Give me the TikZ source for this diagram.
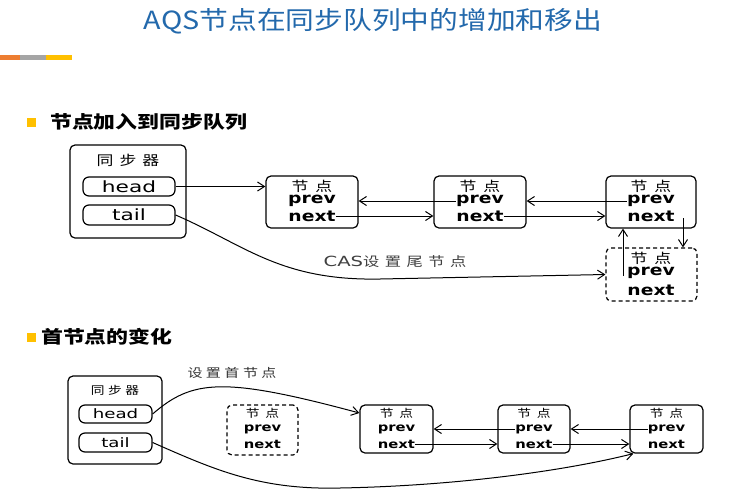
\documentclass[tikz,border=0pt]{standalone}
\usepackage{fontspec}
\setmainfont{Liberation Sans}
\newfontfamily\cjk{Noto Sans CJK SC}[FakeStretch=1.15]
\newfontfamily\cjkw{Noto Sans CJK SC}[FakeStretch=1.25]
\newfontfamily\wide{DejaVu Sans}[FakeStretch=1.25]
\newfontfamily\wider{DejaVu Sans}[FakeStretch=1.4]
\usetikzlibrary{arrows.meta}
\definecolor{titleblue}{RGB}{35,105,172}
\definecolor{barorange}{RGB}{237,125,49}
\definecolor{bargray}{RGB}{165,165,165}
\definecolor{baryellow}{RGB}{255,192,0}
\newcommand{\gapz}{\hspace{3.5pt}}
\newcommand{\gapc}{\hspace{5.5pt}}
\newcommand{\gapn}{\hspace{7pt}}
\newcommand{\gapm}{\hspace{6pt}}
\tikzset{
  box/.style={draw, line width=1.2pt, rounded corners=5pt, inner sep=0pt},
  dbox/.style={box, dashed, dash pattern=on 4pt off 3pt},
  field/.style={draw, line width=1.2pt, rounded corners=6pt, inner sep=0pt, font=\wider\fontsize{15.5}{15.5}\selectfont},
  fields/.style={draw, line width=1.2pt, rounded corners=6pt, inner sep=0pt, font=\wider\fontsize{13}{13}\selectfont},
  ntxt/.style={inner sep=0pt, font=\wide\bfseries\fontsize{15}{15}\selectfont},
  ntxts/.style={inner sep=0pt, font=\wide\bfseries\fontsize{11.8}{11.8}\selectfont},
  ctxt/.style={inner sep=0pt, font=\cjkw\fontsize{13.5}{13.5}\selectfont},
  ctxts/.style={inner sep=0pt, font=\cjkw\fontsize{11}{11}\selectfont},
  arr/.style={-{Straight Barb[length=7pt,width=9pt]}, line width=1pt},
  marker/.style={fill=baryellow, draw=none, inner sep=0pt, minimum size=9pt},
  heading/.style={inner sep=0pt, anchor=west, font=\cjkw\bfseries\fontsize{17.5}{17.5}\selectfont}
}
\begin{document}
\begin{tikzpicture}[x=1pt,y=-1pt]
\useasboundingbox (0,0) rectangle (740,499);
\fill[white] (0,0) rectangle (740,499);
% title
\node[inner sep=0pt, text=titleblue, font=\cjk\fontsize{25}{25}\selectfont] (title) at (373,21) {AQS节点在同步队列中的增加和移出};
\fill[barorange] (0,55) rectangle (20,60);
\fill[bargray] (20,55) rectangle (46,60);
\fill[baryellow] (46,55) rectangle (72,60);

% section 1
\node[marker] (m1) at (31.5,122.5) {};
\node[heading] (h1) at (50,122) {节点加入到同步队列};

% synchronizer 1
\node[box, minimum width=116pt, minimum height=93pt] (s1) at (128,191.5) {};
\node[ctxt] (s1t) at (128,160) {同\gapm 步\gapm 器};
\node[field, minimum width=92pt, minimum height=19pt] (head1) at (129,186.5) {head};
\node[field, minimum width=92pt, minimum height=20pt] (tail1) at (129,215) {tail};

% nodes top
\node[box, minimum width=92pt, minimum height=52pt] (a1) at (312,202) {};
\node[ctxt] (a1t) at (312,186) {节\gapn 点};
\node[ntxt] (a1p) at (312,201) {prev};
\node[ntxt] (a1n) at (312,216) {next};

\node[box, minimum width=92pt, minimum height=52pt] (a2) at (480,202) {};
\node[ctxt] (a2t) at (480,186) {节\gapn 点};
\node[ntxt] (a2p) at (480,201) {prev};
\node[ntxt] (a2n) at (480,216) {next};

\node[box, minimum width=90pt, minimum height=52pt] (a3) at (651,202) {};
\node[ctxt] (a3t) at (651,186) {节\gapn 点};
\node[ntxt] (a3p) at (651,201) {prev};
\node[ntxt] (a3n) at (651,216) {next};

\node[dbox, minimum width=91pt, minimum height=53pt] (dn) at (651.5,274.5) {};
\node[ctxt] (dnt) at (651,258) {节\gapn 点};
\node[ntxt] (dnp) at (651,273) {prev};
\node[ntxt] (dnn) at (651,290) {next};

% connectors top
\draw[arr] (head1.east) -- (a1.west |- head1.east);
\draw[arr] (a2p.west) -- (a2p.west -| a1.east);
\draw[arr] (a1n.east) -- (a1n.east -| a2.west);
\draw[arr] (a3p.west) -- (a3p.west -| a2.east);
\draw[arr] (a2n.east) -- (a2n.east -| a3.west);
\coordinate (d1) at (683,218);
\draw[arr] (d1) -- (d1 |- dn.north);
\coordinate (u1) at (623,276);
\draw[arr] (u1) -- (u1 |- a3.south);
\draw[arr] (tail1.east) .. controls (245,245) and (280,281) .. (380,279) -- (dn.west);
\node[inner sep=0pt, text=black!75, font=\cjkw\fontsize{13}{13}\selectfont] (cas) at (395,262) {{\wider\fontsize{14}{14}\selectfont CAS}设\gapc 置\gapc 尾\gapc 节\gapc 点};

% section 2
\node[marker] (m2) at (31,337) {};
\node[heading] (h2) at (41,337) {首节点的变化};

% synchronizer 2
\node[box, minimum width=94pt, minimum height=88pt] (s2) at (115,420) {};
\node[ctxts] (s2t) at (115,390) {同\gapz 步\gapz 器};
\node[fields, minimum width=73pt, minimum height=18pt] (head2) at (115.5,414) {head};
\node[fields, minimum width=73pt, minimum height=19pt] (tail2) at (115.5,442.5) {tail};

\node[dbox, minimum width=71pt, minimum height=50pt] (bd) at (262.5,430) {};
\node[ctxts] (bdt) at (262.5,413) {节\gapm 点};
\node[ntxts] (bdp) at (262.5,429) {prev};
\node[ntxts] (bdn) at (262.5,444) {next};

\node[box, minimum width=73pt, minimum height=48pt] (bA) at (396.5,429) {};
\node[ctxts] (bAt) at (396.5,413) {节\gapm 点};
\node[ntxts] (bAp) at (396.5,429) {prev};
\node[ntxts] (bAn) at (396.5,444) {next};

\node[box, minimum width=72pt, minimum height=48pt] (bB) at (534,429) {};
\node[ctxts] (bBt) at (534,413) {节\gapm 点};
\node[ntxts] (bBp) at (534,429) {prev};
\node[ntxts] (bBn) at (534,444) {next};

\node[box, minimum width=73pt, minimum height=48pt] (bC) at (666.5,429) {};
\node[ctxts] (bCt) at (666.5,413) {节\gapm 点};
\node[ntxts] (bCp) at (666.5,429) {prev};
\node[ntxts] (bCn) at (666.5,444) {next};

% connectors bottom
\draw[arr] (head2.east) .. controls (192,380) and (222,376) .. ([yshift=16pt]bA.west);
\node[inner sep=0pt, text=black!80, font=\cjkw\fontsize{12}{12}\selectfont] (shead) at (232,373) {设\gapz 置\gapz 首\gapz 节\gapz 点};
\draw[arr] (bBp.west) -- (bBp.west -| bA.east);
\draw[arr] (bAn.east) -- (bAn.east -| bB.west);
\draw[arr] (bCp.west) -- (bCp.west -| bB.east);
\draw[arr] (bBn.east) -- (bBn.east -| bC.west);
\draw[arr] (tail2.east) .. controls (215,470) and (260,490) .. (340,488) .. controls (450,486) and (560,472) .. ([xshift=4pt]bC.south west);
\end{tikzpicture}
\end{document}
